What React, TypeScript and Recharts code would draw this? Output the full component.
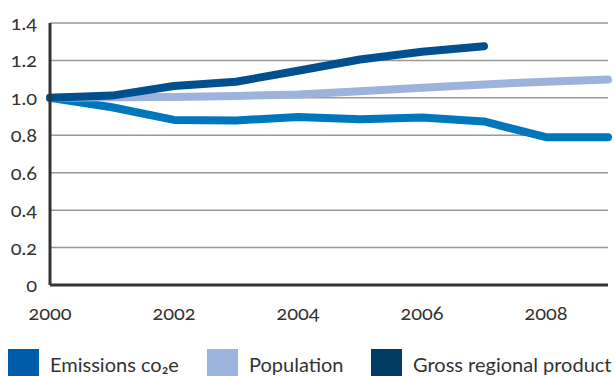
import React from "react";
import { LineChart, Line, XAxis, YAxis, CartesianGrid } from "recharts";

const years = [2000, 2001, 2002, 2003, 2004, 2005, 2006, 2007, 2008, 2009];
const emissions = [1.0, 0.95, 0.882, 0.879, 0.898, 0.886, 0.895, 0.874, 0.79, 0.79];
const population = [1.0, 1.003, 1.005, 1.01, 1.018, 1.035, 1.054, 1.072, 1.086, 1.098];
const grp = [1.0, 1.012, 1.063, 1.086, 1.145, 1.205, 1.246, 1.276, null, null];
const xTicks = [2000, 2002, 2004, 2006, 2008];
const yTicks = [0, 0.2, 0.4, 0.6, 0.8, 1.0, 1.2, 1.4];
const seriesNames = ["Emissions co\u2082e", "Population", "Gross regional product"];

const data = years.map((y, i) => ({
  year: y,
  emissions: emissions[i],
  population: population[i],
  grp: grp[i],
}));

const FONT = "Lato, 'Open Sans', sans-serif";
const TEXT = "#333";

const YTick = (props: any) => {
  const { y, payload } = props;
  const v = payload.value;
  const label = v === 0 ? "0" : v.toFixed(1);
  return (
    <text x={37} y={y} dy={7} textAnchor="end" fill={TEXT} fontSize={20} fontFamily={FONT} style={{ fontVariantNumeric: "oldstyle-nums" }}>
      {label}
    </text>
  );
};

const XTick = (props: any) => {
  const { x, payload } = props;
  return (
    <text x={x} y={320} textAnchor="middle" fill={TEXT} fontSize={20} fontFamily={FONT} style={{ fontVariantNumeric: "oldstyle-nums" }}>
      {payload.value}
    </text>
  );
};

const legendColors = ["#005BAA", "#9CB4DC", "#003C63"];
const legendX = [8, 207, 371];

export default function App() {
  return (
    <div style={{ position: "absolute", left: 0, top: 0, width: 614, height: 376, overflow: "hidden", background: "#fff" }}>
      <LineChart width={614} height={376} data={data} margin={{ top: 23, right: 6, left: 0, bottom: 0 }}>
        <CartesianGrid vertical={false} stroke="#999" strokeWidth={1.5} />
        <XAxis
          dataKey="year"
          type="number"
          domain={[2000, 2009]}
          ticks={xTicks}
          tickLine={false}
          axisLine={{ stroke: "#333", strokeWidth: 3 }}
          height={91}
          tick={<XTick />}
        />
        <YAxis
          domain={[0, 1.4]}
          ticks={yTicks}
          tickLine={false}
          axisLine={{ stroke: "#333", strokeWidth: 3 }}
          width={50}
          tick={<YTick />}
        />
        <Line dataKey="emissions" stroke="#0076BD" strokeWidth={8} dot={false} strokeLinecap="round" strokeLinejoin="round" isAnimationActive={false} />
        <Line dataKey="population" stroke="#9CB4DC" strokeWidth={8} dot={false} strokeLinecap="round" strokeLinejoin="round" isAnimationActive={false} />
        <Line dataKey="grp" stroke="#00508F" strokeWidth={8} dot={false} strokeLinecap="round" strokeLinejoin="round" isAnimationActive={false} />
      </LineChart>
      {seriesNames.map((name, i) => (
        <div key={name} style={{ position: "absolute", left: legendX[i], top: 349, display: "flex", alignItems: "flex-start" }}>
          <div style={{ width: 31, height: 31, background: legendColors[i] }} />
          <div style={{ marginLeft: 11, marginTop: 3, fontFamily: FONT, fontSize: 20, color: TEXT, whiteSpace: "nowrap", lineHeight: "24px" }}>
            {name}
          </div>
        </div>
      ))}
    </div>
  );
}
